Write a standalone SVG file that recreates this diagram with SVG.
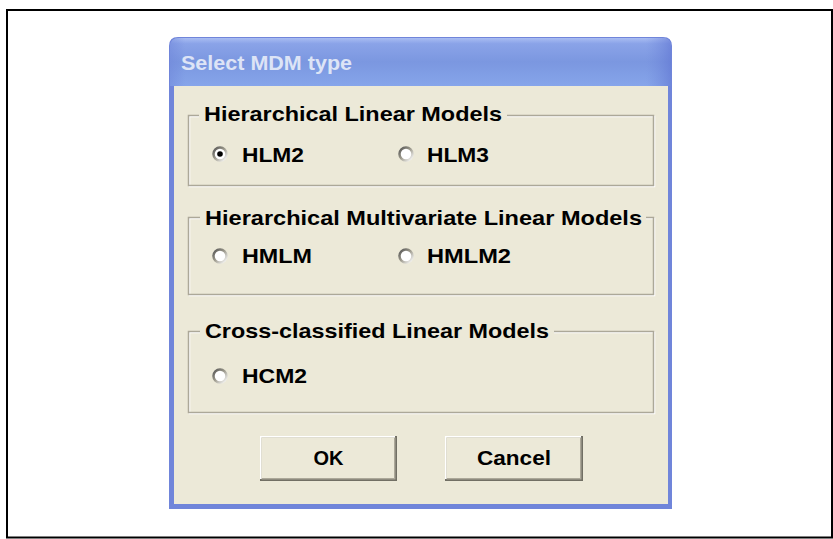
<svg xmlns="http://www.w3.org/2000/svg" width="833" height="539" viewBox="0 0 833 539">
<style>
  .lbl { font-family: "Liberation Sans", Arial, sans-serif; font-weight: bold; font-size: 21px; fill: #000; }
  .title { font-family: "Liberation Sans", Arial, sans-serif; font-weight: bold; font-size: 21px; fill: #dde4f6; }
  .etch1 { fill: none; stroke: #aca899; stroke-width: 1.5; }
  .etch2 { fill: none; stroke: #ffffff; stroke-width: 1.5; }
  .gap { fill: #ece9d8; }
  .radio { fill: #ffffff; stroke: url(#ring); stroke-width: 2.5; }
  .btnface { fill: #ece9d8; }
</style>
<defs>
  <linearGradient id="tb" x1="0" y1="0" x2="0" y2="1">
    <stop offset="0" stop-color="#a9bdf2"/>
    <stop offset="0.12" stop-color="#8aa3e8"/>
    <stop offset="0.5" stop-color="#7b97e0"/>
    <stop offset="1" stop-color="#86a5ea"/>
  </linearGradient>
  <linearGradient id="tbh" x1="0" y1="0" x2="1" y2="0">
    <stop offset="0" stop-color="#6f86da" stop-opacity="0.5"/>
    <stop offset="0.03" stop-color="#6f86da" stop-opacity="0"/>
    <stop offset="0.95" stop-color="#6f86da" stop-opacity="0"/>
    <stop offset="1" stop-color="#5f74d2" stop-opacity="0.6"/>
  </linearGradient>
  <linearGradient id="ring" x1="0" y1="0" x2="1" y2="1">
    <stop offset="0" stop-color="#555555"/>
    <stop offset="0.45" stop-color="#9a978a"/>
    <stop offset="1" stop-color="#ffffff"/>
  </linearGradient>
</defs>

<rect x="0" y="0" width="833" height="539" fill="#ffffff"/>
<rect id="frame" x="7" y="10" width="825" height="527.5" fill="none" stroke="#000" stroke-width="2"/>

<g id="dialog">
  <path d="M169,509 L169,46 Q169,37 178,37 L663,37 Q672,37 672,46 L672,509 Z" fill="#7085da"/>
  <path d="M170,86 L170,47 Q170,38 179,38 L662,38 Q671,38 671,47 L671,86 Z" fill="url(#tb)"/>
  <path d="M170,86 L170,47 Q170,38 179,38 L662,38 Q671,38 671,47 L671,86 Z" fill="url(#tbh)"/>
  <rect x="174" y="86" width="494" height="418" fill="#ece9d8"/>
  <text class="title" x="181" y="70" textLength="171" lengthAdjust="spacingAndGlyphs">Select MDM type</text>
</g>

<g id="group-hlm">
  <rect class="etch2" x="189.5" y="116.5" width="465" height="70"/>
  <rect class="etch1" x="188.5" y="115.5" width="465" height="70"/>
  <rect class="gap" x="199" y="104" width="308" height="20"/>
  <text class="lbl" x="204" y="121" textLength="298" lengthAdjust="spacingAndGlyphs">Hierarchical Linear Models</text>
  <g id="opt-hlm2">
    <circle class="radio" cx="220" cy="154" r="6.5"/>
    <circle cx="220" cy="154" r="2.8" fill="#000"/>
    <text class="lbl" x="242" y="162" textLength="62" lengthAdjust="spacingAndGlyphs">HLM2</text>
  </g>
  <g id="opt-hlm3">
    <circle class="radio" cx="406" cy="154" r="6.5"/>
    <text class="lbl" x="427" y="162" textLength="62" lengthAdjust="spacingAndGlyphs">HLM3</text>
  </g>
</g>

<g id="group-hmlm">
  <rect class="etch2" x="189.5" y="218.5" width="465" height="77"/>
  <rect class="etch1" x="188.5" y="217.5" width="465" height="77"/>
  <rect class="gap" x="200" y="206" width="446" height="22"/>
  <text class="lbl" x="205" y="225" textLength="437" lengthAdjust="spacingAndGlyphs">Hierarchical Multivariate Linear Models</text>
  <g id="opt-hmlm">
    <circle class="radio" cx="220" cy="256" r="6.5"/>
    <text class="lbl" x="242" y="263" textLength="70" lengthAdjust="spacingAndGlyphs">HMLM</text>
  </g>
  <g id="opt-hmlm2">
    <circle class="radio" cx="406" cy="256" r="6.5"/>
    <text class="lbl" x="427" y="263" textLength="84" lengthAdjust="spacingAndGlyphs">HMLM2</text>
  </g>
</g>

<g id="group-hcm">
  <rect class="etch2" x="189.5" y="332.5" width="465" height="81"/>
  <rect class="etch1" x="188.5" y="331.5" width="465" height="81"/>
  <rect class="gap" x="200" y="320" width="354" height="22"/>
  <text class="lbl" x="205" y="338" textLength="344" lengthAdjust="spacingAndGlyphs">Cross-classified Linear Models</text>
  <g id="opt-hcm2">
    <circle class="radio" cx="220" cy="376" r="6.5"/>
    <text class="lbl" x="242" y="383" textLength="65" lengthAdjust="spacingAndGlyphs">HCM2</text>
  </g>
</g>

<g id="btn-ok">
  <rect x="260" y="436" width="137" height="45" fill="#716f64"/>
  <rect x="260" y="436" width="135" height="43" fill="#ffffff"/>
  <rect x="261.5" y="437.5" width="134" height="42" fill="#aca899"/>
  <rect x="261.5" y="437.5" width="132.5" height="40.5" class="btnface"/>
  <text class="lbl" x="328.5" y="465" text-anchor="middle" textLength="30" lengthAdjust="spacingAndGlyphs">OK</text>
</g>
<g id="btn-cancel">
  <rect x="445" y="436" width="138" height="45" fill="#716f64"/>
  <rect x="445" y="436" width="136" height="43" fill="#ffffff"/>
  <rect x="446.5" y="437.5" width="135" height="42" fill="#aca899"/>
  <rect x="446.5" y="437.5" width="133.5" height="40.5" class="btnface"/>
  <text class="lbl" x="514" y="465" text-anchor="middle" textLength="74" lengthAdjust="spacingAndGlyphs">Cancel</text>
</g>
</svg>
